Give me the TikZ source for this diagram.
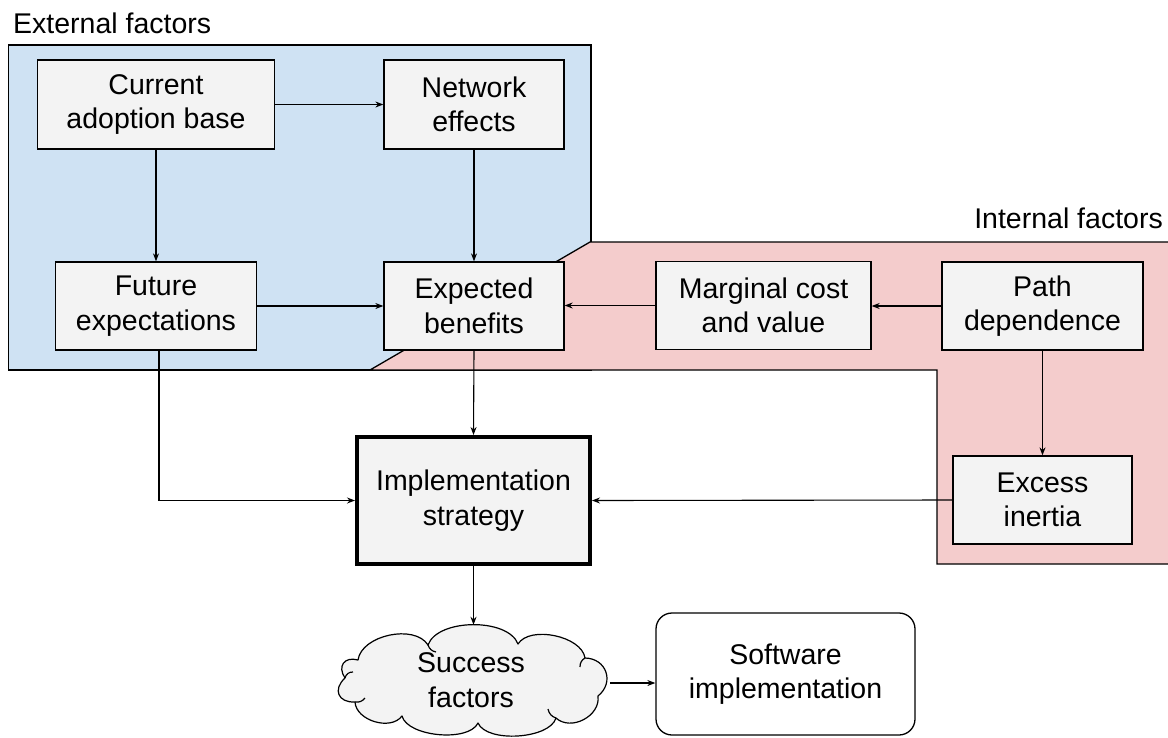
\documentclass[tikz,border=0pt]{standalone}
\usepackage{fontspec}
\setmainfont{Liberation Sans}
\usetikzlibrary{arrows.meta}
\definecolor{extblue}{HTML}{CFE2F3}
\definecolor{intpink}{HTML}{F4CCCC}
\definecolor{boxgray}{HTML}{F3F3F3}
\begin{document}
\begin{tikzpicture}[x=1pt,y=-1pt,
  every node/.style={font=\fontsize{28.5}{34.5}\selectfont, align=center, inner sep=0pt},
  fbox/.style={draw=black, line width=1.3pt, fill=boxgray, minimum height=88pt},
  region/.style={draw=black, line width=1.3pt},
  conn/.style={line width=1.1pt, -{Stealth[length=8pt,width=6pt]}},
  lbl/.style={},
  puff/.style={bend left=70, looseness=#1}
]
\useasboundingbox (0,0) rectangle (1168,737);
\clip (0,0) rectangle (1168,737);
% regions
\filldraw[region, fill=extblue] (8.5,45) rectangle (591,370);
\filldraw[region, fill=intpink] (590,242) -- (1180,242) -- (1180,564) -- (937,564) -- (937,370) -- (370,370) -- cycle;
\node[lbl, anchor=base west] (extlbl) at (13,33) {External factors};
\node[lbl, anchor=base east] (intlbl) at (1163,228) {Internal factors};
% nodes
\node[fbox, minimum width=237.5pt, minimum height=89pt] (cur) at (156,104.5) {Current\\adoption base};
\node[fbox, minimum width=180pt, minimum height=89pt] (net) at (474,104.5) {Network\\effects};
\node[fbox, minimum width=201pt] (fut) at (156,306) {Future\\expectations};
\node[fbox, minimum width=180pt] (exp) at (474,306) {Expected\\benefits};
\node[fbox, minimum width=215pt] (mar) at (763.5,305.5) {Marginal cost\\and value};
\node[fbox, minimum width=201pt] (pat) at (1042.5,306) {Path\\dependence};
\node[fbox, minimum width=179pt] (exc) at (1042.5,500) {Excess\\inertia};
\node[draw=black, line width=4pt, fill=boxgray, minimum width=233pt, minimum height=127pt] (imp) at (473.5,500.5) {Implementation\\strategy};
% cloud outline
\filldraw[line width=1.2pt, fill=boxgray, line join=round]
  (358,660) to[puff=0.9] (428,645) to[puff=0.8] (518,644) to[puff=0.83] (585,658)
  to[puff=1.38] (598,696) to[puff=1.09] (556,718) to[puff=0.72] (478,723)
  to[puff=0.72] (402,716) to[puff=0.98] (355,702) to[puff=1.67] (345,678)
  to[puff=1.63] cycle;
\draw[line width=1.2pt] (345,678) to[bend left=40] (353,672);
\draw[line width=1.2pt] (428,645) to[bend right=30] (436,652);
\draw[line width=1.2pt] (585,658) to[bend right=30] (580,667);
\draw[line width=1.2pt] (556,718) to[bend left=30] (548,709);
\draw[line width=1.2pt] (355,702) to[bend right=30] (365,698);
\node[minimum width=278pt, minimum height=110pt] (suc) at (471,680) {Success\\factors};
\node[draw=black, line width=1.3pt, rounded corners=16pt, fill=white, minimum width=259pt, minimum height=122pt] (sw) at (785.5,674) {Software\\implementation};
% connectors
\draw[conn] (cur.east) -- (net.west);
\draw[conn] (cur.south) -- (fut.north);
\draw[conn] (net.south) -- (exp.north);
\draw[conn] (fut.east) -- (fut.east -| exp.west);
\draw[conn] (mar.west) -- (mar.west -| exp.east);
\draw[conn] (pat.west) -- (pat.west -| mar.east);
\draw[conn] (pat.south) -- (exc.north);
\draw[conn] (exp.south) -- (imp.north);
\draw[conn] ([xshift=3pt]fut.south) |- (imp.west);
\draw[conn] (exc.west) -- (imp.east);
\draw[conn] (imp.south) -- (imp.south |- suc.north);
\draw[conn] ([yshift=-3pt]suc.east) -- ([yshift=-3pt]suc.east -| sw.west);
\end{tikzpicture}
\end{document}
